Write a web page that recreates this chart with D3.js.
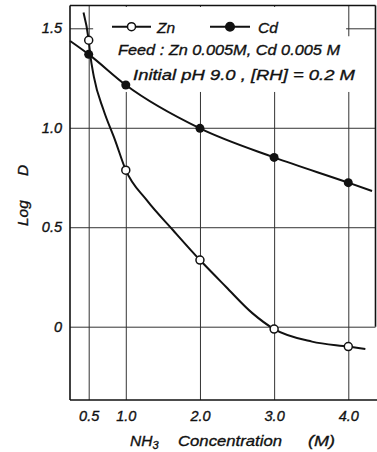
<!DOCTYPE html>
<html><head><meta charset="utf-8">
<script src="https://cdn.jsdelivr.net/npm/d3@7"></script>
<style>
html,body{margin:0;padding:0;background:#fff;}
svg text{font-family:"Liberation Sans",Arial,sans-serif;font-style:italic;fill:#111;}
</style></head>
<body>
<svg id="chart" width="377" height="452"></svg>
<script>
// ---- data ----
const xTicks = [0.5, 1.0, 2.0, 3.0, 4.0];
const xTickLabels = ["0.5", "1.0", "2.0", "3.0", "4.0"];
const yTicks = [0, 0.5, 1.0, 1.5];
const yTickLabels = ["0", "0.5", "1.0", "1.5"];
const nh3 = [0.5, 1.0, 2.0, 3.0, 4.0];
const znLogD = [1.44, 0.787, 0.335, -0.012, -0.10];
const cdLogD = [1.369, 1.215, 0.997, 0.851, 0.724];
// smooth hand-drawn curves
const znCurveX = [0.43, 0.5, 0.52, 0.57, 0.70, 0.855, 1.0, 1.28, 1.635, 2.0, 2.35, 2.71, 3.0, 3.51, 4.0, 4.23];
const znCurveY = [1.58, 1.44, 1.37, 1.256, 1.089, 0.938, 0.787, 0.637, 0.486, 0.335, 0.201, 0.067, -0.012, -0.075, -0.10, -0.112];
const cdCurveX = [0.25, 0.5, 1.0, 2.0, 3.0, 4.0, 4.32];
const cdCurveY = [1.436, 1.369, 1.215, 0.997, 0.851, 0.724, 0.682];
const legendNames = ["Zn", "Cd"];
const noteLines = ["Feed : Zn 0.005M, Cd 0.005 M", "Initial  pH  9.0 ,  [RH] = 0.2 M"];
const xTitle = ["NH", "3", "Concentration", "(M)"];
const yTitle = ["Log", "D"];

// ---- layout ----
const svg = d3.select("#chart");
const L = 70, R = 375.5, T = 5.5, B = 400;
const x = d3.scaleLinear().domain([0.5, 4.0]).range([88.7, 348.3]);
const y = d3.scaleLinear().domain([0, 1.5]).range([326.7, 28.3]);

const fontCss = sel => sel.style("font-family", "Liberation Sans, Arial, sans-serif")
  .style("font-style", "italic").attr("fill", "#111").attr("stroke", "#111").attr("stroke-width", 0.35);

// gridlines + tick labels via axes
const gx = svg.append("g").attr("transform", `translate(0,${B})`)
  .call(d3.axisBottom(x).tickValues(xTicks).tickSize(-(B - T)).tickPadding(11)
    .tickFormat((d, i) => xTickLabels[i]));
gx.select(".domain").remove();
gx.selectAll("line").attr("stroke", "#333").attr("stroke-width", 1);
gx.selectAll("text").attr("font-size", 14.5).call(fontCss);

const gy = svg.append("g").attr("transform", `translate(${L},0)`)
  .call(d3.axisLeft(y).tickValues(yTicks).tickSize(-(R - L)).tickPadding(8)
    .tickFormat((d, i) => yTickLabels[i]));
gy.select(".domain").remove();
gy.selectAll("line").attr("stroke", "#333").attr("stroke-width", 1);
gy.selectAll("text").attr("font-size", 14.5).call(fontCss);

// white areas behind the legend/notes (grid is interrupted there)
svg.append("rect").attr("x", x(0.56)).attr("y", T + 1.5).attr("width", x(3.88) - x(0.56))
  .attr("height", y(1.18) - T - 1.5).attr("fill", "#fff");
svg.append("rect").attr("x", x(3.88) - 1).attr("y", y(1.46)).attr("width", x(4.12) - x(3.88) + 1)
  .attr("height", y(1.18) - y(1.46)).attr("fill", "#fff");
svg.append("rect").attr("x", x(3.88) - 1).attr("y", y(1.55)).attr("width", x(3.97) - x(3.88) + 1)
  .attr("height", y(1.46) - y(1.55)).attr("fill", "#fff");

// frame
const fr = svg.append("g").attr("stroke", "#111").attr("fill", "none").attr("stroke-width", 1.6);
fr.append("line").attr("x1", L).attr("x2", L).attr("y1", T).attr("y2", B);
fr.append("line").attr("x1", L).attr("x2", 377).attr("y1", B).attr("y2", B);
fr.append("line").attr("x1", L).attr("x2", R).attr("y1", T).attr("y2", T);
fr.append("line").attr("x1", R).attr("x2", R).attr("y1", T).attr("y2", y(0));

// curves
const line = d3.line().x(d => x(d[0])).y(d => y(d[1])).curve(d3.curveMonotoneX);
svg.append("path").datum(znCurveX.map((v, i) => [v, znCurveY[i]]))
  .attr("d", line).attr("fill", "none").attr("stroke", "#111").attr("stroke-width", 2);
svg.append("path").datum(cdCurveX.map((v, i) => [v, cdCurveY[i]]))
  .attr("d", line).attr("fill", "none").attr("stroke", "#111").attr("stroke-width", 2);

// markers
svg.append("g").selectAll("circle").data(nh3).join("circle")
  .attr("cx", d => x(d)).attr("cy", (d, i) => y(znLogD[i])).attr("r", 4)
  .attr("fill", "#fff").attr("stroke", "#111").attr("stroke-width", 1.5);
svg.append("g").selectAll("circle").data(nh3).join("circle")
  .attr("cx", d => x(d)).attr("cy", (d, i) => y(cdLogD[i])).attr("r", 4.5)
  .attr("fill", "#111");

// legend
const leg = [{x0: 112, x1: 151, tx: 157, open: true}, {x0: 210, x1: 250, tx: 258, open: false}];
leg.forEach((l, i) => {
  const ly = 26.7;
  svg.append("line").attr("x1", l.x0).attr("x2", l.x1).attr("y1", ly).attr("y2", ly)
    .attr("stroke", "#111").attr("stroke-width", 2);
  svg.append("circle").attr("cx", (l.x0 + l.x1) / 2).attr("cy", ly).attr("r", l.open ? 4 : 4.3)
    .attr("fill", l.open ? "#fff" : "#111").attr("stroke", "#111").attr("stroke-width", 1.5);
  svg.append("text").attr("x", l.tx).attr("y", 33).attr("font-size", 15.5).call(fontCss).text(legendNames[i]);
});
svg.append("text").attr("x", 118).attr("y", 55).attr("font-size", 15).call(fontCss)
  .attr("textLength", 222).attr("lengthAdjust", "spacingAndGlyphs").text(noteLines[0]);
svg.append("text").attr("x", 133).attr("y", 80).attr("font-size", 15).call(fontCss)
  .attr("textLength", 222).attr("lengthAdjust", "spacingAndGlyphs").text(noteLines[1]);

// axis titles
const xt = svg.append("text").attr("x", 130).attr("y", 446).attr("font-size", 15.5).call(fontCss);
xt.append("tspan").text(xTitle[0]);
xt.append("tspan").attr("dy", 3).attr("font-size", 11).text(xTitle[1]);
const xt2 = svg.append("text").attr("x", 178).attr("y", 446).attr("font-size", 15.5).call(fontCss)
  .attr("textLength", 104).attr("lengthAdjust", "spacingAndGlyphs").text(xTitle[2]);
svg.append("text").attr("x", 308).attr("y", 446).attr("font-size", 15.5).call(fontCss)
  .attr("textLength", 27).attr("lengthAdjust", "spacingAndGlyphs").text(xTitle[3]);

svg.append("text").attr("transform", "translate(28,226) rotate(-90)")
  .attr("font-size", 15.5).call(fontCss).text(yTitle[0]);
svg.append("text").attr("transform", "translate(28,176) rotate(-90)")
  .attr("font-size", 15.5).call(fontCss).text(yTitle[1]);
</script>
</body></html>
